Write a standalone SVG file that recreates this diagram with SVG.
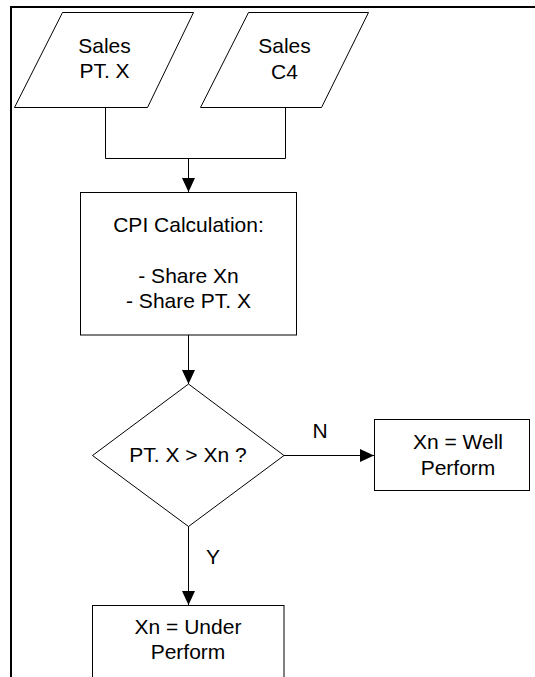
<svg xmlns="http://www.w3.org/2000/svg" width="535" height="677" viewBox="0 0 535 677">
  <style>
    .shape { fill: #fff; stroke: #000; stroke-width: 1; }
    .edge { fill: none; stroke: #000; stroke-width: 1; }
    .lbl { font-family: "Liberation Sans", Arial, sans-serif; font-size: 21px; fill: #000; text-anchor: middle; }
  </style>
  <defs>
    <marker id="arrow" viewBox="0 0 14 14" refX="14" refY="7" markerWidth="14" markerHeight="14" markerUnits="userSpaceOnUse" orient="auto">
      <path d="M0,0.5 L14,7 L0,13.5 Z" fill="#000"/>
    </marker>
  </defs>

  <rect width="535" height="677" fill="#fff"/>

  <!-- page frame -->
  <path d="M11,690 V7 H540" fill="none" stroke="#000" stroke-width="2"/>

  <!-- connectors -->
  <g id="connectors">
    <path class="edge" d="M105.5,107 V158.5 H285.5 V107"/>
    <path class="edge" d="M188.5,158.5 V192" marker-end="url(#arrow)"/>
    <path class="edge" d="M188.5,335 V384" marker-end="url(#arrow)"/>
    <path class="edge" d="M284,455.5 H374" marker-end="url(#arrow)"/>
    <path class="edge" d="M188.5,526 V605" marker-end="url(#arrow)"/>
    <text class="lbl" x="320" y="438">N</text>
    <text class="lbl" x="213" y="564">Y</text>
  </g>

  <g id="sales-ptx">
    <polygon class="shape" points="62.5,12.5 193.5,12.5 147.5,107.5 14.5,107.5"/>
    <text class="lbl" x="104.5" y="53">Sales</text>
    <text class="lbl" x="104.5" y="78">PT. X</text>
  </g>

  <g id="sales-c4">
    <polygon class="shape" points="248.5,12.5 368.5,12.5 321.5,107.5 200.5,107.5"/>
    <text class="lbl" x="284.5" y="53">Sales</text>
    <text class="lbl" x="284.5" y="79">C4</text>
  </g>

  <g id="cpi-calc">
    <rect class="shape" x="80.5" y="192.5" width="216" height="142.5"/>
    <text class="lbl" x="188.5" y="231.5">CPI Calculation:</text>
    <text class="lbl" x="188.5" y="282.5">- Share Xn</text>
    <text class="lbl" x="188.5" y="308">- Share PT. X</text>
  </g>

  <g id="decision">
    <polygon class="shape" points="188.5,384 284,455.5 188.5,526.5 92.5,455.5"/>
    <text class="lbl" x="188" y="462">PT. X &gt; Xn ?</text>
  </g>

  <g id="well-perform">
    <rect class="shape" x="374.5" y="419.5" width="155" height="71"/>
    <text class="lbl" x="458" y="449">Xn = Well</text>
    <text class="lbl" x="458" y="475">Perform</text>
  </g>

  <g id="under-perform">
    <rect class="shape" x="92.5" y="605.5" width="191.5" height="90"/>
    <text class="lbl" x="188" y="634">Xn = Under</text>
    <text class="lbl" x="188" y="659">Perform</text>
  </g>
</svg>
